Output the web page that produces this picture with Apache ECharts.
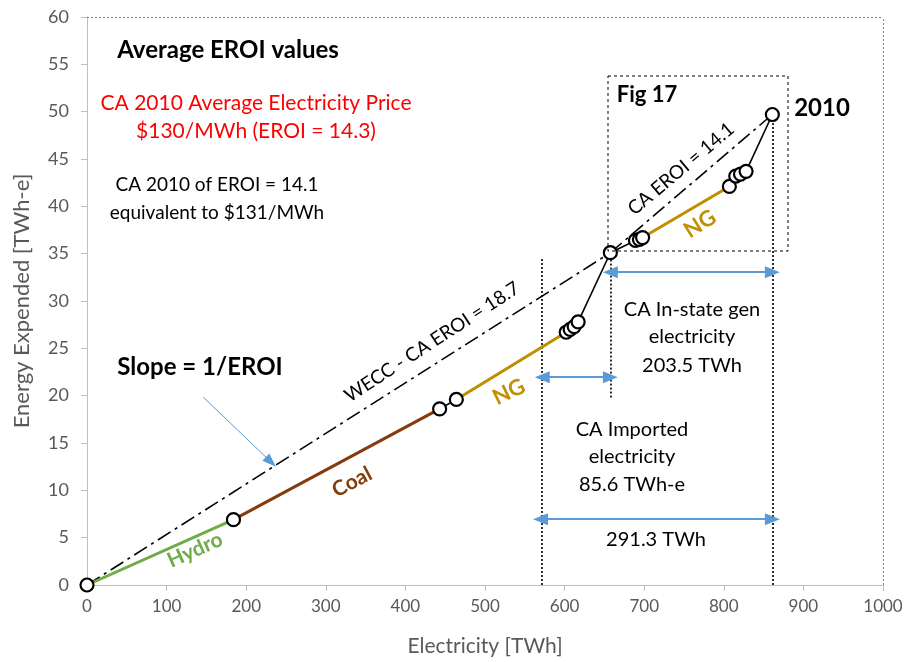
<!DOCTYPE html>
<html>
<head>
<meta charset="utf-8">
<script src="https://cdn.jsdelivr.net/npm/echarts@6/dist/echarts.min.js"></script>
<style>
  html, body { margin: 0; padding: 0; background: #ffffff; }
  #chart { width: 911px; height: 662px; }
</style>
</head>
<body>
<div id="chart"></div>
<script>
// Cumulative electricity [TWh] vs. energy expended [TWh-e], California 2010 supply
const hydro = [[0, 0], [184, 6.9]];
const coal = [[184, 6.9], [443, 18.6]];
const ngImported = [[464, 19.6], [602, 26.7]];
const ngInState = [[698, 36.7], [807, 42.1]];
const supplyPath = [
  [0, 0], [184, 6.9], [443, 18.6], [464, 19.6], [602, 26.7], [607, 27.0],
  [612, 27.3], [617, 27.8], [657.5, 35.1], [689, 36.4], [694, 36.5],
  [698, 36.7], [807, 42.1], [815, 43.2], [821, 43.4], [828, 43.7], [861, 49.7]
];
// Average EROI reference lines (slope = 1/EROI)
const weccLine = [[0, 0], [657.5, 35.1]];
const caLine = [[657.5, 35.1], [861, 49.7]];
// Electricity spans [TWh]
const total2010 = 861;
const inStateGen = 203.5;
const importedGen = 85.6;
const totalGen = 291.3;

const xTicks = { min: 0, max: 1000, step: 100 };
const yTicks = { min: 0, max: 60, step: 5 };

const chart = echarts.init(document.getElementById('chart'), null, { renderer: 'canvas' });

const inStateStart = total2010 - inStateGen;
const importStart = inStateStart - importedGen;
const totalStart = total2010 - totalGen;

const FONT = 'Lato, "Open Sans", "DejaVu Sans", sans-serif';
const ARROW_BLUE = '#5b9bd5';
const dotStyle = { color: '#000', width: 1.6, type: [2, 2] };

function txt(text, x, y, opt) {
  opt = opt || {};
  return {
    type: 'text', x: x, y: y, z: 100,
    rotation: (opt.rot || 0) * Math.PI / 180,
    style: {
      text: text,
      font: (opt.weight || 'normal') + ' ' + (opt.size || 17) + 'px ' + FONT,
      fill: opt.color || '#000',
      align: 'center', verticalAlign: 'middle'
    }
  };
}

const option = {
  animation: false,
  backgroundColor: '#ffffff',
  grid: { left: 87, right: 28, top: 17, bottom: 77, containLabel: false },
  xAxis: {
    type: 'value', min: xTicks.min, max: xTicks.max, interval: xTicks.step,
    name: 'Electricity [TWh]', nameLocation: 'middle', nameGap: 51,
    nameTextStyle: { color: '#595959', fontSize: 21, fontFamily: FONT },
    axisLine: { show: true, onZero: false, lineStyle: { color: '#bfbfbf', width: 1 } },
    axisTick: { show: true, inside: false, length: 6, lineStyle: { color: '#bfbfbf' } },
    axisLabel: { color: '#595959', fontSize: 17, margin: 13, fontFamily: FONT,
      formatter: function (v) { return String(v); } },
    splitLine: { show: false }
  },
  yAxis: {
    type: 'value', min: yTicks.min, max: yTicks.max, interval: yTicks.step,
    name: 'Energy Expended [TWh-e]', nameLocation: 'middle', nameGap: 54, nameRotate: 90,
    nameTextStyle: { color: '#595959', fontSize: 22, fontFamily: FONT },
    axisLine: { show: true, onZero: false, lineStyle: { color: '#bfbfbf', width: 1 } },
    axisTick: { show: true, inside: false, length: 6, lineStyle: { color: '#bfbfbf' } },
    axisLabel: { color: '#595959', fontSize: 18, margin: 18, fontFamily: FONT },
    splitLine: { show: false }
  },
  series: [
    {
      // plot frame (dotted top/right) and value guide lines
      type: 'line', data: [], silent: true,
      markLine: {
        silent: true, symbol: ['none', 'none'], label: { show: false },
        lineStyle: dotStyle,
        data: [
          [{ coord: [xTicks.min, yTicks.max], lineStyle: { color: '#7f7f7f', width: 1, type: [2, 2] } },
           { coord: [xTicks.max, yTicks.max] }],
          [{ coord: [xTicks.max, yTicks.min], lineStyle: { color: '#7f7f7f', width: 1, type: [2, 2] } },
           { coord: [xTicks.max, yTicks.max] }],
          [{ coord: [importStart, 0] }, { coord: [importStart, 34.6] }],
          [{ coord: [inStateStart, 19.8] }, { coord: [inStateStart, 35.1] }],
          [{ coord: [total2010, 0] }, { coord: [total2010, 49.7] }]
        ]
      }
    },
    {
      type: 'line', data: [], silent: true,
      markLine: {
        silent: true, symbol: ['triangle', 'triangle'], symbolSize: [12, 15],
        label: { show: false },
        lineStyle: { color: ARROW_BLUE, width: 2, type: 'solid' },
        itemStyle: { color: ARROW_BLUE },
        data: [
          [{ coord: [inStateStart, 33.05] }, { coord: [total2010, 33.05] }],
          [{ coord: [importStart, 21.95] }, { coord: [inStateStart, 21.95] }],
          [{ coord: [totalStart, 6.95] }, { coord: [total2010, 6.95] }]
        ]
      }
    },
    {
      type: 'line', data: [], silent: true,
      markLine: {
        silent: true, symbol: ['none', 'triangle'], symbolSize: [10, 14],
        label: { show: false },
        lineStyle: { color: ARROW_BLUE, width: 1, type: 'solid' },
        itemStyle: { color: ARROW_BLUE },
        data: [[{ coord: [146, 19.85] }, { coord: [231, 13.0] }]]
      }
    },
    {
      name: 'WECC - CA EROI', type: 'line', data: weccLine, showSymbol: false, z: 3,
      lineStyle: { color: '#000', width: 1.6, type: [15, 5, 3, 5] }
    },
    {
      name: 'CA EROI', type: 'line', data: caLine, showSymbol: false, z: 3,
      lineStyle: { color: '#000', width: 1.6, type: [15, 5, 3, 5] }
    },
    {
      name: 'Supply path', type: 'line', data: supplyPath, showSymbol: false, z: 4,
      lineStyle: { color: '#000', width: 1.6 }
    },
    {
      name: 'Hydro', type: 'line', data: hydro, showSymbol: false, z: 5,
      lineStyle: { color: '#70ad47', width: 3 }
    },
    {
      name: 'Coal', type: 'line', data: coal, showSymbol: false, z: 5,
      lineStyle: { color: '#843c0c', width: 3 }
    },
    {
      name: 'NG imported', type: 'line', data: ngImported, showSymbol: false, z: 5,
      lineStyle: { color: '#bf9000', width: 3 }
    },
    {
      name: 'NG in-state', type: 'line', data: ngInState, showSymbol: false, z: 5,
      lineStyle: { color: '#bf9000', width: 3 }
    },
    {
      name: 'Points', type: 'scatter', data: supplyPath, z: 6,
      symbol: 'circle', symbolSize: 13,
      itemStyle: { color: '#ffffff', borderColor: '#000', borderWidth: 2.2, opacity: 1 }
    }
  ],
  graphic: [
    { type: 'rect', z: 90, shape: { x: 608, y: 76, width: 180, height: 175 },
      style: { fill: 'none', stroke: '#000', lineWidth: 1, lineDash: [3, 3] } },
    txt('Average EROI values', 228, 50, { weight: 'bold', size: 24 }),
    txt('CA 2010 Average Electricity Price', 256, 103, { color: '#ff0000', size: 21 }),
    txt('$130/MWh (EROI = 14.3)', 256, 131, { color: '#ff0000', size: 21 }),
    txt('CA 2010 of EROI = 14.1', 217, 185, { size: 19 }),
    txt('equivalent to $131/MWh', 217, 213, { size: 19 }),
    txt('Slope = 1/EROI', 200, 367, { weight: 'bold', size: 24 }),
    txt('WECC - CA EROI = 18.7', 432, 342, { size: 19, rot: 33 }),
    txt('CA EROI = 14.1', 681, 169, { size: 19, rot: 40 }),
    txt('Fig 17', 647, 95, { weight: 'bold', size: 22 }),
    txt('2010', 822, 108, { weight: 'bold', size: 24 }),
    txt('Hydro', 195, 550, { weight: 'bold', size: 21, rot: 24, color: '#70ad47' }),
    txt('Coal', 352, 482, { weight: 'bold', size: 21, rot: 28, color: '#843c0c' }),
    txt('NG', 509, 392, { weight: 'bold', size: 22, rot: 26, color: '#bf9000' }),
    txt('NG', 700, 224, { weight: 'bold', size: 22, rot: 32, color: '#bf9000' }),
    txt('CA In-state gen', 692, 310, { size: 20 }),
    txt('electricity', 692, 337, { size: 20 }),
    txt(inStateGen + ' TWh', 692, 366, { size: 20 }),
    txt('CA Imported', 632, 430, { size: 20 }),
    txt('electricity', 632, 457, { size: 20 }),
    txt(importedGen + ' TWh-e', 632, 485, { size: 20 }),
    txt(totalGen + ' TWh', 656, 540, { size: 20 })
  ]
};

chart.setOption(option);
</script>
</body>
</html>
